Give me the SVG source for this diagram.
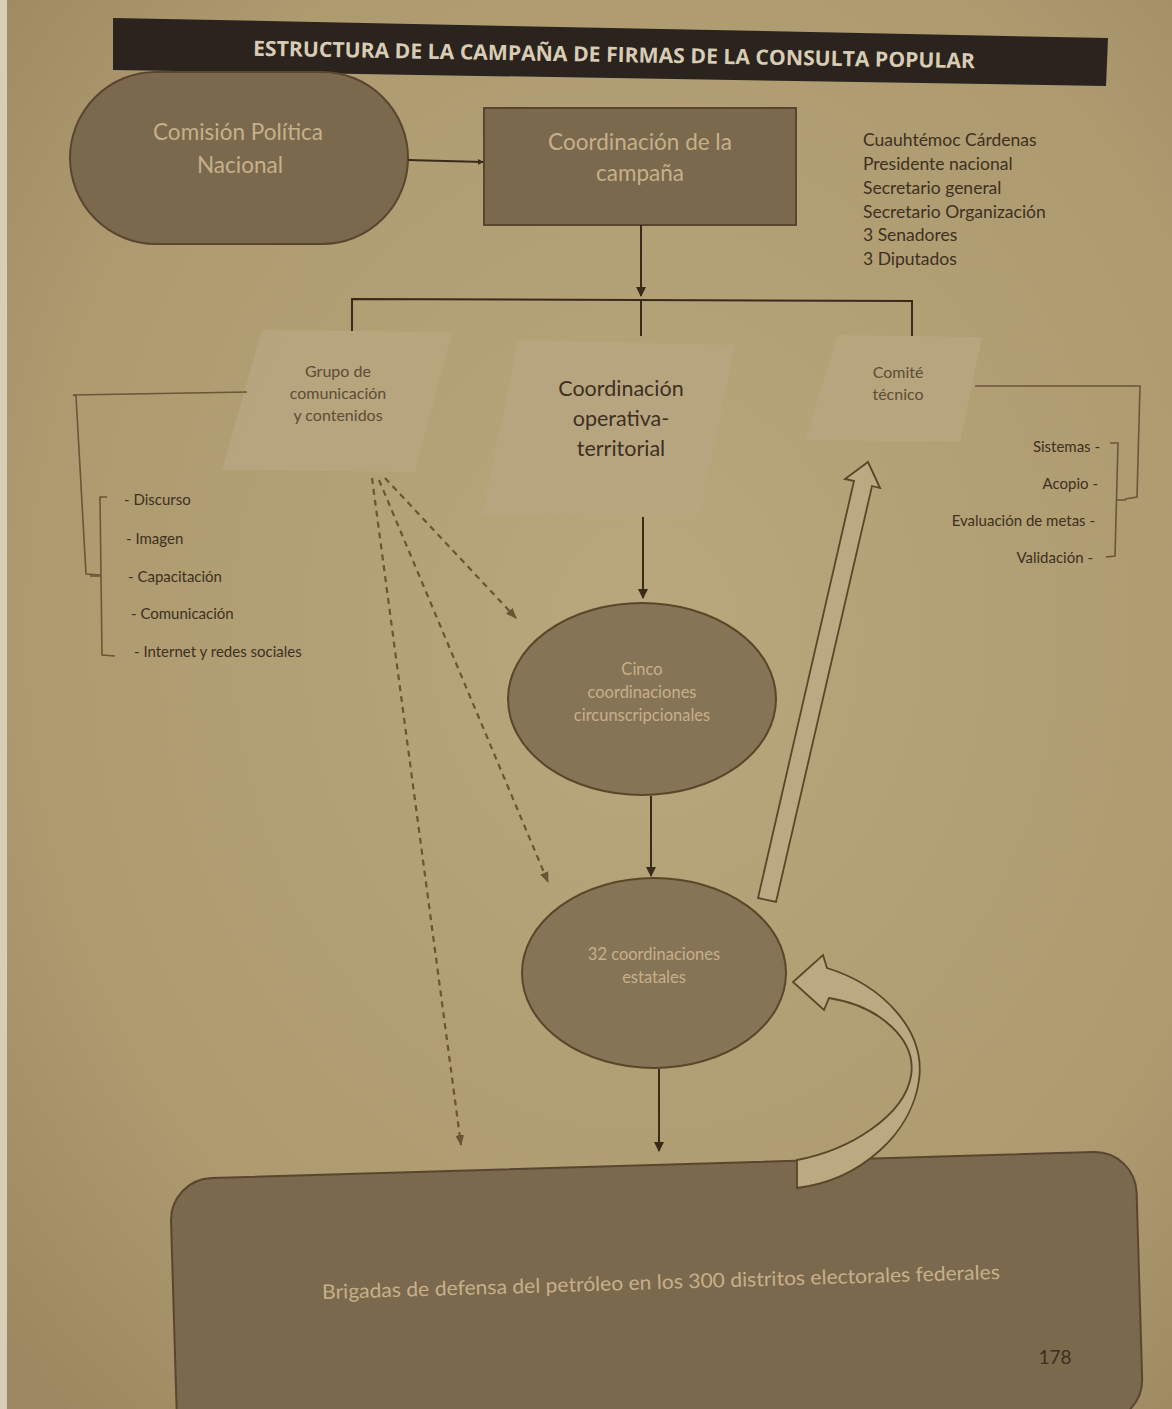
<svg xmlns="http://www.w3.org/2000/svg" width="1172" height="1409" viewBox="0 0 1172 1409">
<defs>
<radialGradient id="bg" cx="0.55" cy="0.45" r="0.75">
<stop offset="0" stop-color="#b9a77d"/>
<stop offset="0.7" stop-color="#ad9a6f"/>
<stop offset="1" stop-color="#9c8860"/>
</radialGradient>
<marker id="ah" viewBox="0 0 10 10" refX="9" refY="5" markerWidth="6" markerHeight="6" orient="auto" markerUnits="userSpaceOnUse">
<path d="M0,0 L10,5 L0,10 Z" fill="#3a2a1a"/>
</marker>
<marker id="ahs" viewBox="0 0 10 10" refX="9" refY="5" markerWidth="10" markerHeight="10" orient="auto" markerUnits="userSpaceOnUse">
<path d="M0,0 L10,5 L0,10 Z" fill="#3a2a1a"/>
</marker>
<marker id="ahd" viewBox="0 0 10 10" refX="9" refY="5" markerWidth="11" markerHeight="11" orient="auto" markerUnits="userSpaceOnUse">
<path d="M0,1 L10,5 L0,9 Z" fill="#6a5434"/>
</marker>
</defs>
<style>
.dark{fill:#7a694d;stroke:#5a4630;stroke-width:2}
.ell{fill:#867456;stroke:#5a4628;stroke-width:2}
.para{fill:#b7a680;opacity:0.85}
.lt{font-family:Lato,"Open Sans",sans-serif;fill:#c6b08a;text-anchor:middle}
.dk{font-family:Lato,"Open Sans",sans-serif;fill:#3e3020}
.md{font-family:Lato,"Open Sans",sans-serif;fill:#5e4c34;text-anchor:middle}
.ln{stroke:#3a2a1a;stroke-width:2;fill:none}
.br{stroke:#6a5638;stroke-width:1.6;fill:none}
.dash{stroke:#6a5434;stroke-width:2.2;fill:none;stroke-dasharray:6 5}
.hollow{fill:#bba981;stroke:#5a4628;stroke-width:1.8}
</style>
<rect width="1172" height="1409" fill="url(#bg)"/>
<rect x="0" y="0" width="7" height="1409" fill="#d8ceb8"/>

<g id="title">
<polygon points="113,18 1108,38 1106,86 113,70" fill="#2a231e"/>
<text x="614" y="62" font-family="'Open Sans',Lato,sans-serif" font-weight="bold" font-size="21" fill="#d8ccb4" text-anchor="middle" textLength="722" lengthAdjust="spacingAndGlyphs" transform="rotate(1,614,57)">ESTRUCTURA DE LA CAMPAÑA DE FIRMAS DE LA CONSULTA POPULAR</text>
</g>

<g id="comision">
<rect class="dark" x="70" y="72" width="338" height="172" rx="86"/>
<text class="lt" x="238" y="140" font-size="22.5">Comisión Política</text>
<text class="lt" x="240" y="173" font-size="22.5">Nacional</text>
</g>

<g id="coordinacion-campana">
<rect class="dark" x="484" y="108" width="312" height="117"/>
<text class="lt" x="640" y="150" font-size="22.5">Coordinación de la</text>
<text class="lt" x="640" y="181" font-size="22.5">campaña</text>
</g>

<g id="miembros">
<text class="dk" font-size="17.5" x="863" y="146">Cuauhtémoc Cárdenas</text>
<text class="dk" font-size="17.5" x="863" y="170">Presidente nacional</text>
<text class="dk" font-size="17.5" x="863" y="194">Secretario general</text>
<text class="dk" font-size="17.5" x="863" y="218">Secretario Organización</text>
<text class="dk" font-size="17.5" x="863" y="241">3 Senadores</text>
<text class="dk" font-size="17.5" x="863" y="265">3 Diputados</text>
</g>

<g id="grupo-comunicacion">
<polygon class="para" points="262,330 452,332 415,472 222,470"/>
<text class="md" x="338" y="377" font-size="16">Grupo de</text>
<text class="md" x="338" y="399" font-size="16">comunicación</text>
<text class="md" x="338" y="421" font-size="16">y contenidos</text>
</g>

<g id="lista-comunicacion">
<text class="dk" font-size="15" x="124" y="505">- Discurso</text>
<text class="dk" font-size="15" x="126" y="544">- Imagen</text>
<text class="dk" font-size="15" x="128" y="582">- Capacitación</text>
<text class="dk" font-size="15" x="131" y="619">- Comunicación</text>
<text class="dk" font-size="15" x="134" y="657">- Internet y redes sociales</text>
</g>

<g id="coordinacion-operativa">
<polygon class="para" points="518,340 735,345 700,515 482,515"/>
<text class="dk" x="621" y="396" font-size="21.5" text-anchor="middle" fill="#4a3a26">Coordinación</text>
<text class="dk" x="621" y="426" font-size="21.5" text-anchor="middle">operativa-</text>
<text class="dk" x="621" y="456" font-size="21.5" text-anchor="middle">territorial</text>
</g>

<g id="comite-tecnico">
<polygon class="para" points="838,335 982,337 960,442 805,440"/>
<text class="md" x="898" y="378" font-size="16">Comité</text>
<text class="md" x="898" y="400" font-size="16">técnico</text>
</g>

<g id="lista-comite">
<text class="dk" font-size="15" x="1100" y="452" text-anchor="end">Sistemas -</text>
<text class="dk" font-size="15" x="1098" y="489" text-anchor="end">Acopio -</text>
<text class="dk" font-size="15" x="1095" y="526" text-anchor="end">Evaluación de metas -</text>
<text class="dk" font-size="15" x="1093" y="563" text-anchor="end">Validación -</text>
</g>

<g id="cinco-coordinaciones">
<ellipse class="ell" cx="642" cy="699" rx="134" ry="96"/>
<text class="lt" x="642" y="675" font-size="16.5">Cinco</text>
<text class="lt" x="642" y="698" font-size="16.5">coordinaciones</text>
<text class="lt" x="642" y="721" font-size="16.5">circunscripcionales</text>
</g>

<g id="coordinaciones-estatales">
<ellipse class="ell" cx="654" cy="973" rx="132" ry="95"/>
<text class="lt" x="654" y="960" font-size="16.5">32 coordinaciones</text>
<text class="lt" x="654" y="983" font-size="16.5">estatales</text>
</g>

<g id="brigadas">
<rect class="dark" x="173" y="1165" width="966" height="270" rx="42" transform="rotate(-1.7,655,1280)"/>
<text class="lt" x="661" y="1289" font-size="20" textLength="678" lengthAdjust="spacingAndGlyphs" transform="rotate(-1.7,661,1283)">Brigadas de defensa del petróleo en los 300 distritos electorales federales</text>
<text class="dk" x="1055" y="1364" font-size="19" text-anchor="middle">178</text>
</g>

<g id="connectors">
<line class="ln" x1="408" y1="160" x2="483" y2="162" marker-end="url(#ah)"/>
<line class="ln" x1="641" y1="225" x2="641" y2="296" marker-end="url(#ahs)"/>
<polyline class="ln" points="352,331 352,299 912,301 912,336"/>
<line class="ln" x1="641" y1="299" x2="641" y2="336"/>
<line class="ln" x1="643" y1="517" x2="643" y2="598" marker-end="url(#ahs)"/>
<line class="ln" x1="651" y1="796" x2="651" y2="876" marker-end="url(#ahs)"/>
<line class="ln" x1="659" y1="1069" x2="659" y2="1151" marker-end="url(#ahs)"/>
<line class="dash" x1="385" y1="478" x2="516" y2="618" marker-end="url(#ahd)"/>
<line class="dash" x1="379" y1="480" x2="548" y2="882" marker-end="url(#ahd)"/>
<line class="dash" x1="372" y1="478" x2="461" y2="1145" marker-end="url(#ahd)"/>
<polyline class="br" points="247,392 73,395 76,396 86,574 100,575"/>
<polyline class="br" points="107,497 100,497 102,655 115,656"/>
<line class="br" x1="101" y1="576" x2="90" y2="576"/>
<polyline class="br" points="975,386 1140,386 1137,497 1125,499"/>
<polyline class="br" points="1110,443 1118,443 1115,556 1106,557"/>
<line class="br" x1="1117" y1="500" x2="1126" y2="500"/>
<polygon class="hollow" points="758,898 776,902 872,486 880,488 868,462 845,479 854,481"/>
<path class="hollow" d="M827,968 C882,985 926,1030 919,1080 C912,1132 862,1180 797,1188 L797,1160 C850,1150 904,1116 911,1076 C917,1040 880,1006 829,998 L824,1010 L793,982 L823,955 Z"/>
</g>
</svg>
